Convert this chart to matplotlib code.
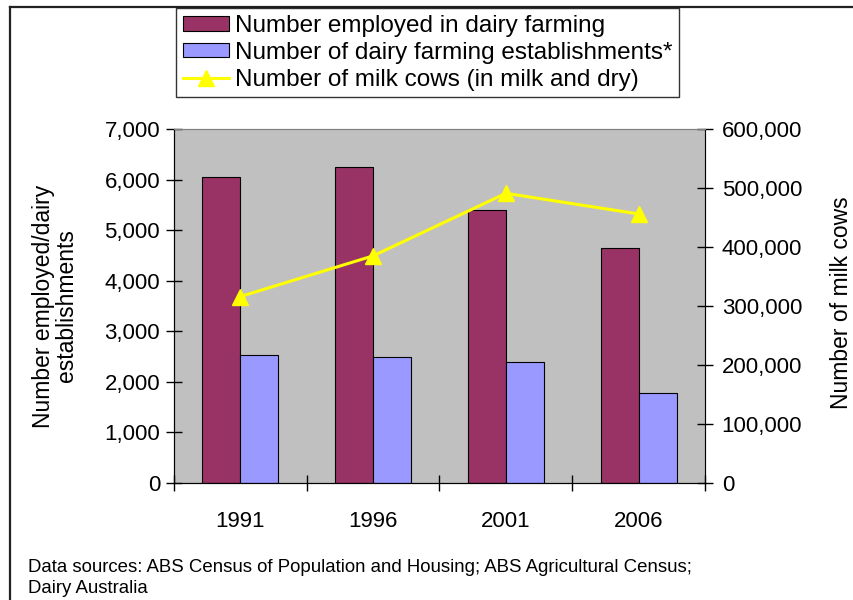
import matplotlib
matplotlib.use("Agg")
import matplotlib.pyplot as plt
from matplotlib.lines import Line2D
from matplotlib.ticker import FuncFormatter, FixedLocator
import numpy as np

plt.rcParams['font.family'] = ['Liberation Sans', 'DejaVu Sans']

years = ["1991", "1996", "2001", "2006"]
employed = [6045, 6255, 5400, 4650]
establishments = [2525, 2490, 2400, 1775]
milk_cows = [316000, 385000, 491000, 456000]

fig = plt.figure(figsize=(8.54, 6.00), dpi=100)
W, H = 854, 600

# outer frame (top and left edges only fall inside the image)
fig.add_artist(Line2D([10 / W, 1], [1 - 6.5 / H, 1 - 6.5 / H], color="#222222", lw=1.6,
                      transform=fig.transFigure))
fig.add_artist(Line2D([10.5 / W, 10.5 / W], [0, 1 - 6.5 / H], color="#222222", lw=1.6,
                      transform=fig.transFigure))

ax = fig.add_axes([174 / W, 1 - 483 / H, (705 - 174) / W, (483 - 129) / H])
ax.set_facecolor("#C0C0C0")

x = np.arange(len(years))
bw = 1 / 3.5
b1 = ax.bar(x - bw / 2, employed, bw, color="#993366", edgecolor="black", lw=0.8,
            label="Number employed in dairy farming", zorder=2)
b2 = ax.bar(x + bw / 2, establishments, bw, color="#9999FF", edgecolor="black", lw=0.8,
            label="Number of dairy farming establishments*", zorder=2)

ax.set_xlim(-0.5, len(years) - 0.5)
ax.set_ylim(0, 7000)
ax.set_yticks(range(0, 7001, 1000))
ax.yaxis.set_major_formatter(FuncFormatter(lambda v, p: f"{int(v):,}"))
ax.set_xticks(x)
ax.set_xticklabels(years)
ax.xaxis.set_minor_locator(FixedLocator(np.arange(-0.5, len(years), 1.0)))
ax.tick_params(axis="x", which="major", length=0, labelsize=16, pad=20)
ax.tick_params(axis="x", which="minor", direction="inout", length=12, width=1)
ax.tick_params(axis="y", direction="inout", length=12, width=1, labelsize=16, pad=4)

for s in ["top", "right"]:
    ax.spines[s].set_color("#808080")
for s in ["left", "bottom"]:
    ax.spines[s].set_color("black")

ax.set_ylabel("Number employed/dairy\nestablishments", fontsize=16.5, linespacing=1.0)
ax.yaxis.set_label_coords(-0.181, 0.5)

ax2 = ax.twinx()
ln, = ax2.plot(x, milk_cows, color="#FFFF00", lw=2.2, marker="^", markersize=12,
               label="Number of milk cows (in milk and dry)", zorder=3)
ax2.set_ylim(0, 600000)
ax2.set_yticks(range(0, 600001, 100000))
ax2.yaxis.set_major_formatter(FuncFormatter(lambda v, p: f"{int(v):,}"))
ax2.tick_params(axis="y", direction="inout", length=12, width=1, labelsize=16, pad=6)
ax2.spines["right"].set_color("black")
ax2.spines["top"].set_color("#808080")
ax2.set_ylabel("Number of milk cows", fontsize=16.5)
ax2.yaxis.set_label_coords(1.236, 0.51)

leg = fig.legend(handles=[b1, b2, ln], loc="upper left",
                 bbox_to_anchor=(176 / W, 1 - 8 / H), fontsize=17.5,
                 frameon=True, fancybox=False, edgecolor="black",
                 handlelength=1.9, handleheight=0.55, handletextpad=0.25,
                 labelspacing=0.2, borderpad=0.28, borderaxespad=0)
leg.get_frame().set_linewidth(1.0)

fig.text(28 / W, 1 - 578 / H, "Data sources: ABS Census of Population and Housing; ABS Agricultural Census;\nDairy Australia",
         fontsize=13.4, va="center", ha="left", linespacing=1.3)

fig.savefig("out.png", dpi=100)
